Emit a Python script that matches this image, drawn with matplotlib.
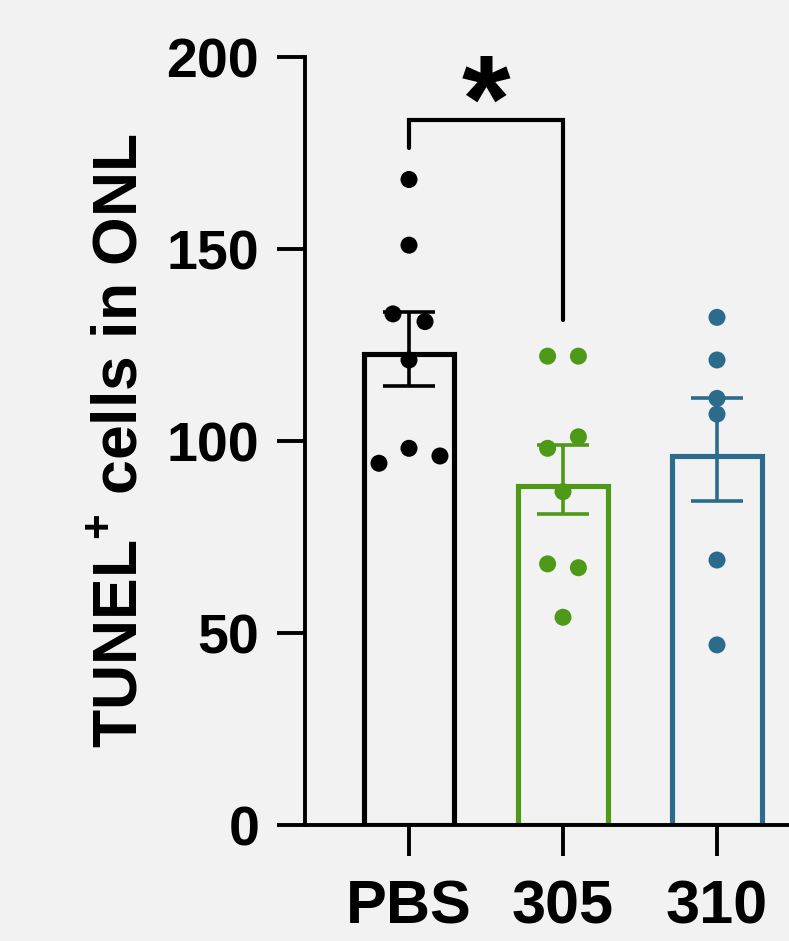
import matplotlib
matplotlib.use("Agg")
import matplotlib.pyplot as plt
import numpy as np

plt.rcParams['font.family'] = ['Liberation Sans', 'DejaVu Sans']
plt.rcParams['font.weight'] = 'bold'
plt.rcParams['mathtext.fontset'] = 'custom'
plt.rcParams['mathtext.rm'] = 'Liberation Sans:bold'
plt.rcParams['mathtext.bf'] = 'Liberation Sans:bold'
plt.rcParams['mathtext.default'] = 'rm'

# ---- data ----
categories = ["PBS", "305", "310"]
means = [122.7, 88.3, 96.2]
sem_upper = [133.5, 99.0, 111.1]
sem_lower = [114.3, 80.9, 84.4]
pbs_points = [168.1, 151.0, 133.1, 131.1, 121.1, 98.1, 94.2, 96.1]
g305_points = [122.1, 122.1, 101.1, 98.1, 86.8, 68.0, 67.0, 54.1]
g310_points = [132.2, 121.1, 111.1, 107.0, 69.0, 46.9]
yticks = [0, 50, 100, 150, 200]
sig_label = "*"

# ---- layout / style ----
pbs_offsets = [0.0, 0.0, -0.104, 0.104, 0.0, 0.0, -0.195, 0.201]
g305_offsets = [-0.1, 0.1, 0.1, -0.1, 0.0, -0.1, 0.1, 0.0]
g310_offsets = [0.0] * 6
colors = ["#000000", "#4e9a18", "#2b6c8c"]
bg = "#f2f2f2"

W, H = 789, 941
fig = plt.figure(figsize=(W / 100, H / 100), dpi=100, facecolor=bg)
left, right = 305 / W, 1.0
bottom, top = (H - 825) / H, (H - 57) / H
ax = fig.add_axes([left, bottom, right - left, top - bottom], facecolor=bg)

x = np.arange(len(categories))
px_per_unit = 154.0
ax.set_xlim((305 - 409) / px_per_unit, (789 - 409) / px_per_unit)
ax.set_ylim(0, 200)

for i in range(len(categories)):
    ax.bar(x[i], means[i], width=0.59, facecolor='none', edgecolor=colors[i],
           linewidth=3.7, zorder=2)
    ax.errorbar(x[i], means[i],
                yerr=[[means[i] - sem_lower[i]], [sem_upper[i] - means[i]]],
                fmt='none', ecolor=colors[i], elinewidth=2.6, capsize=19,
                capthick=2.6, zorder=3)

groups = [pbs_points, g305_points, g310_points]
offs = [pbs_offsets, g305_offsets, g310_offsets]
for i, (pts, of) in enumerate(zip(groups, offs)):
    ax.scatter(x[i] + np.array(of), pts, s=150, color=colors[i],
               edgecolors='none', zorder=4)

# significance bracket
ax.plot([x[0], x[0], x[1], x[1]], [176.3, 183.6, 183.6, 131.5], color='black',
        linewidth=3.0, solid_capstyle='round', solid_joinstyle='miter',
        zorder=5, clip_on=False)
ax.text((x[0] + x[1]) / 2, 186.3, sig_label, ha='center', va='center',
        fontsize=90, fontweight='bold', color='black')

# axes styling
for s in ['top', 'right']:
    ax.spines[s].set_visible(False)
for s in ['left', 'bottom']:
    ax.spines[s].set_linewidth(2.8)
ax.set_yticks(yticks)
ax.set_yticklabels([str(t) for t in yticks])
ax.set_xticks(x)
ax.set_xticklabels(categories)
ax.tick_params(axis='y', length=20, width=2.8, pad=13, labelsize=40)
ax.tick_params(axis='x', length=22, width=2.8, pad=17, labelsize=44)
for lab in ax.get_xticklabels() + ax.get_yticklabels():
    lab.set_fontweight('bold')

ax.set_ylabel("TUNEL$^{+}$ cells in ONL", fontsize=45, fontweight='bold')
ax.yaxis.set_label_coords((150 - 305) / (789 - 305), 0.5)

fig.savefig("out.png", dpi=100, facecolor=bg)
